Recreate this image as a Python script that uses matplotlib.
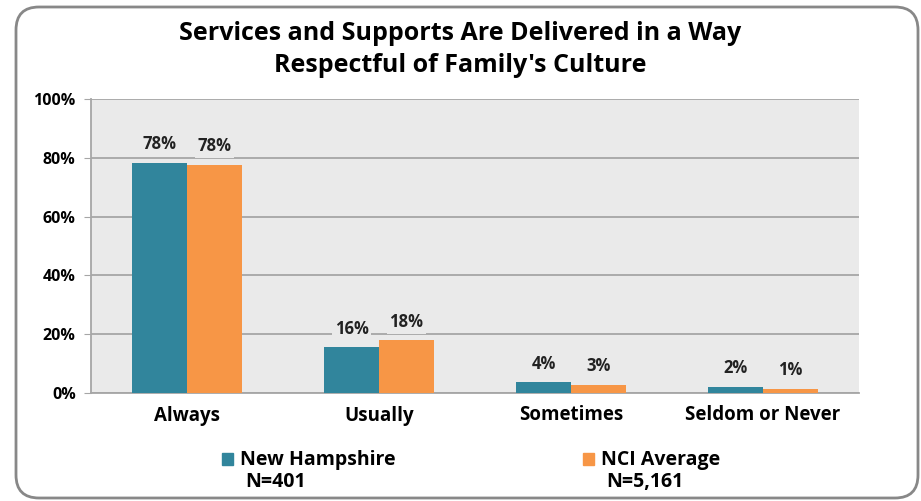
import matplotlib.pyplot as plt
import numpy as np
from matplotlib.patches import FancyBboxPatch, Rectangle

categories = ["Always", "Usually", "Sometimes", "Seldom or Never"]
new_hampshire = [78.3, 15.5, 3.6, 2.2]
nci_average = [77.7, 17.9, 2.8, 1.4]
nh_labels = ["78%", "16%", "4%", "2%"]
nci_labels = ["78%", "18%", "3%", "1%"]
series_names = ["New Hampshire", "NCI Average"]
series_n = ["N=401", "N=5,161"]
yticks = [0, 20, 40, 60, 80, 100]

TEAL = "#31859C"
ORANGE = "#F79646"
BG = "#EAEAEA"
GRID = "#A6A6A6"

plt.rcParams['font.family'] = ['Open Sans', 'DejaVu Sans']

fig = plt.figure(figsize=(9.21, 5.01), dpi=100)
ax = fig.add_axes([91 / 921, 1 - 393 / 501, (859 - 91) / 921, (393 - 99) / 501])

# rounded outer border
border = FancyBboxPatch((16 / 921, 3 / 501), (918 - 16) / 921, (496 - 5) / 501,
                        boxstyle="round,pad=0,rounding_size=0.025",
                        transform=fig.transFigure, facecolor="none",
                        edgecolor="#888888", linewidth=2, mutation_aspect=921 / 501)
fig.patches.append(border)

x = np.arange(len(categories))
w = 0.285
ax.set_facecolor(BG)
ax.bar(x - w / 2, new_hampshire, w, color=TEAL, zorder=3)
ax.bar(x + w / 2, nci_average, w, color=ORANGE, zorder=3)

for xi, v, lab in zip(x - w / 2, new_hampshire, nh_labels):
    ax.text(xi, v + 3.3, lab, ha="center", va="bottom", fontsize=12, fontweight="bold",
            color="#222222", zorder=4,
            bbox=dict(facecolor=BG, edgecolor="none", pad=2))
for xi, v, lab in zip(x + w / 2, nci_average, nci_labels):
    ax.text(xi, v + 3.3, lab, ha="center", va="bottom", fontsize=12, fontweight="bold",
            color="#222222", zorder=4,
            bbox=dict(facecolor=BG, edgecolor="none", pad=2))

ax.set_xlim(-0.5, len(categories) - 0.5)
ax.set_ylim(0, 100)
ax.set_yticks(yticks)
ax.set_yticklabels([f"{t}%" for t in yticks], fontsize=11.5, fontweight="bold")
ax.set_xticks(x)
ax.set_xticklabels(categories, fontsize=13.5, fontweight="bold")
ax.tick_params(axis="x", length=0, pad=9)
ax.tick_params(axis="y", length=5, color=GRID, pad=6)
ax.yaxis.grid(True, color=GRID, linewidth=1.3, zorder=0)
ax.set_axisbelow(True)
for side in ["top", "right"]:
    ax.spines[side].set_visible(False)
for side in ["left", "bottom"]:
    ax.spines[side].set_color(GRID)
    ax.spines[side].set_linewidth(1.3)

fig.text(0.5, 1 - 33 / 501, "Services and Supports Are Delivered in a Way",
         ha="center", va="center", fontsize=18, fontweight="bold")
fig.text(0.5, 1 - 66 / 501, "Respectful of Family's Culture",
         ha="center", va="center", fontsize=18, fontweight="bold")

# legend
for sx, name, n, col in zip([222, 583], series_names, series_n, [TEAL, ORANGE]):
    fig.patches.append(Rectangle((sx / 921, 1 - 465 / 501), 11 / 921, 12 / 501,
                                 transform=fig.transFigure, color=col))
    fig.text((sx + 18) / 921, 1 - 460 / 501, name, ha="left", va="center",
             fontsize=14, fontweight="bold")
    fig.text((sx + 23) / 921, 1 - 482 / 501, n, ha="left", va="center",
             fontsize=14, fontweight="bold")

fig.savefig("out.png", dpi=100)
